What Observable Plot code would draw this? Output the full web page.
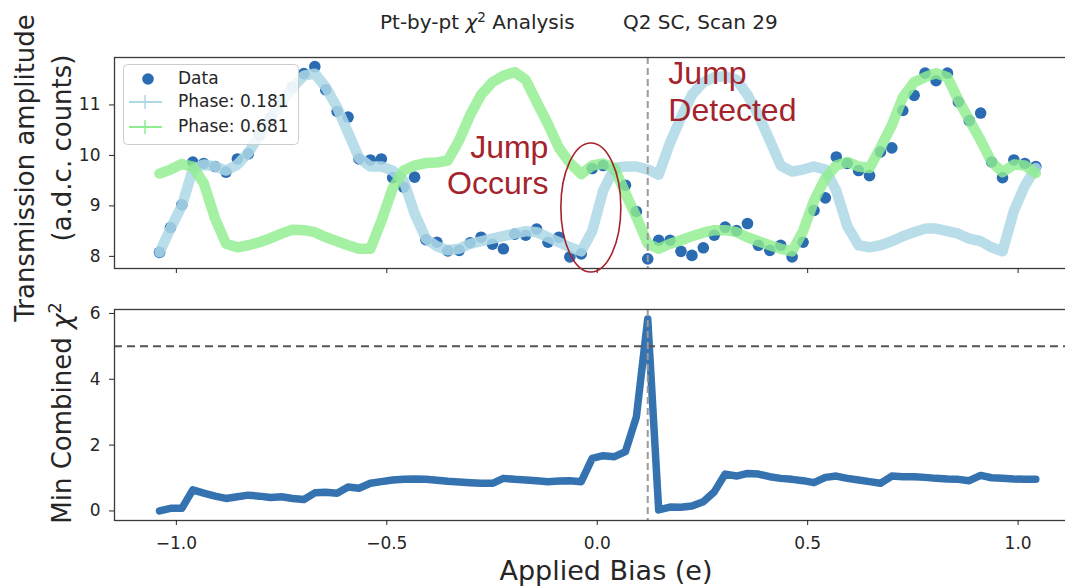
<!DOCTYPE html>
<html><head><meta charset="utf-8">
<script src="https://cdn.jsdelivr.net/npm/d3@7"></script>
<script src="https://cdn.jsdelivr.net/npm/@observablehq/plot@0.6"></script>
<style>
html,body{margin:0;padding:0;background:#fff;overflow:hidden}
#wrap{position:relative;width:1065px;height:587px;overflow:hidden;font-family:"DejaVu Sans",sans-serif;color:#262626;background:#fff}
#wrap svg{display:block;max-width:none}
.pane{position:absolute;left:0;width:1074px}
.t{position:absolute;white-space:nowrap;line-height:1}
.rot{transform:translate(-50%,-50%) rotate(-90deg)}
sup{font-size:0.68em;vertical-align:0.55em;line-height:0}
</style></head>
<body><div id="wrap">
  <div class="pane" id="topPane" style="top:0"></div>
  <div class="pane" id="botPane" style="top:290px"></div>
  <div class="t" style="left:380px;top:12px;font-size:20px">Pt-by-pt <i>χ</i><sup>2</sup> Analysis</div>
  <div class="t" style="left:623px;top:12px;font-size:20px">Q2 SC, Scan 29</div>
  <div class="t rot" style="left:25px;top:168px;font-size:26px">Transmission amplitude</div>
  <div class="t rot" style="left:62px;top:148px;font-size:26px">(a.d.c. counts)</div>
  <div class="t rot" style="left:62px;top:413px;font-size:26px">Min Combined <i>χ</i><sup>2</sup></div>
  <div class="t" style="left:606px;top:557px;font-size:27px;transform:translateX(-50%)">Applied Bias (e)</div>
</div>
<script>
// ---- data ----
const bias = [-1.040,-1.014,-0.987,-0.961,-0.935,-0.908,-0.882,-0.855,-0.829,-0.803,
 -0.776,-0.750,-0.724,-0.697,-0.671,-0.645,-0.618,-0.592,-0.566,-0.539,
 -0.513,-0.486,-0.460,-0.434,-0.407,-0.381,-0.355,-0.328,-0.302,-0.276,
 -0.249,-0.223,-0.196,-0.170,-0.144,-0.117,-0.091,-0.065,-0.038,-0.012,
 0.014,0.041,0.067,0.093,0.120,0.146,0.173,0.199,0.225,0.252,
 0.278,0.304,0.331,0.357,0.383,0.410,0.436,0.463,0.489,0.515,
 0.542,0.568,0.594,0.621,0.647,0.673,0.700,0.726,0.753,0.779,
 0.805,0.832,0.858,0.884,0.911,0.937,0.963,0.990,1.016,1.042];

const measured = [8.08,8.57,9.02,9.87,9.84,9.78,9.67,9.93,10.03,10.40,
 10.75,11.05,11.35,11.62,11.76,11.30,10.87,10.76,9.93,9.91,
 9.93,9.56,9.37,9.57,8.33,8.28,8.11,8.12,8.27,8.38,
 8.24,8.15,8.44,8.42,8.54,8.28,8.38,7.99,8.05,9.74,
 9.80,9.72,9.41,8.89,7.95,8.32,8.32,8.10,8.02,8.17,
 8.42,8.58,8.51,8.65,8.22,8.12,8.22,7.99,8.28,8.91,
 9.16,9.97,9.84,9.70,9.60,10.07,10.15,10.89,11.19,11.63,
 11.48,11.63,11.06,10.69,10.84,9.87,9.56,9.91,9.84,9.78];

const phase181 = [8.08,8.55,9.00,9.72,9.82,9.78,9.70,9.82,10.05,10.40,
 10.75,11.05,11.35,11.58,11.62,11.35,10.95,10.45,9.95,9.78,
 9.78,9.70,9.50,8.85,8.35,8.20,8.12,8.15,8.25,8.30,
 8.35,8.40,8.45,8.50,8.48,8.38,8.28,8.18,8.10,8.50,
 9.30,9.75,9.78,9.78,9.72,9.62,10.25,10.75,11.20,11.45,
 11.55,11.57,11.50,11.20,10.80,10.30,9.80,9.68,9.72,9.78,
 9.72,9.30,8.60,8.22,8.18,8.22,8.30,8.40,8.48,8.55,
 8.55,8.50,8.45,8.35,8.30,8.18,8.10,8.90,9.40,9.75];

const phase681 = [9.64,9.72,9.83,9.78,9.45,8.75,8.25,8.18,8.22,8.28,
 8.36,8.45,8.53,8.52,8.48,8.38,8.30,8.22,8.15,8.15,
 8.70,9.35,9.70,9.80,9.85,9.86,9.90,10.30,10.80,11.20,
 11.45,11.58,11.65,11.50,11.06,10.62,10.15,9.85,9.63,9.80,
 9.84,9.75,9.25,8.78,8.25,8.15,8.25,8.32,8.40,8.47,
 8.52,8.52,8.48,8.38,8.30,8.22,8.15,8.10,8.50,9.10,
 9.55,9.80,9.87,9.78,9.75,10.15,10.60,11.15,11.45,11.55,
 11.63,11.55,11.10,10.70,10.30,9.87,9.67,9.82,9.80,9.65];

const minChi2 = [0.00,0.08,0.08,0.64,0.54,0.45,0.38,0.43,0.48,0.45,
 0.41,0.43,0.38,0.35,0.55,0.57,0.54,0.73,0.69,0.84,
 0.89,0.94,0.96,0.97,0.96,0.93,0.90,0.88,0.86,0.84,
 0.84,0.99,0.96,0.94,0.92,0.89,0.91,0.92,0.89,1.60,
 1.68,1.65,1.80,2.86,5.83,0.03,0.12,0.11,0.15,0.28,
 0.58,1.12,1.06,1.14,1.12,1.04,0.99,0.96,0.92,0.86,
 1.02,1.06,0.99,0.94,0.89,0.84,1.06,1.04,1.04,1.02,
 0.99,0.97,0.96,0.92,1.08,1.01,0.99,0.97,0.96,0.96];

const legendLabels = ["Data", "Phase: 0.181", "Phase: 0.681"];
const ampTicks = [8, 9, 10, 11];
const ampTickLabels = ["8", "9", "10", "11"];
const chiTicks = [0, 2, 4, 6];
const chiTickLabels = ["0", "2", "4", "6"];
const biasTicks = [-1, -0.5, 0, 0.5, 1];
const biasTickLabels = ["−1.0", "−0.5", "0.0", "0.5", "1.0"];
const chi2Threshold = 5;
const jumpIndex = 44;

// ---- styling ----
const C_DOT = "#2a6bb2", C_P1 = "#add8e6", C_P2 = "#90ee90", C_CHI = "#3572b0", C_ANN = "#a4232c";
const rows = bias.map((b, i) => ({b, d: measured[i], p1: phase181[i], p2: phase681[i], c: minChi2[i]}));
const jumpX = bias[jumpIndex];

const common = {
  width: 1074, marginLeft: 114, marginRight: 0,
  x: {domain: [-1.147, 1.134]},
  style: {fontFamily: '"DejaVu Sans", sans-serif', fontSize: "17px", color: "#262626", background: "transparent", overflow: "visible", maxWidth: "none"}
};
const annFont = {fontFamily: '"Liberation Sans", Arial, sans-serif', fontSize: 32, fill: C_ANN, lineAnchor: "middle"};

const topPlot = Plot.plot({
  ...common,
  height: 290, marginTop: 57, marginBottom: 22,
  y: {domain: [7.76, 11.94]},
  marks: [
    Plot.dot(rows, {x: "b", y: "d", r: 5.8, fill: C_DOT, stroke: "none"}),
    Plot.line(rows, {x: "b", y: "p1", stroke: C_P1, strokeWidth: 10.5, strokeOpacity: 0.85}),
    Plot.line(rows, {x: "b", y: "p2", stroke: C_P2, strokeWidth: 10.5, strokeOpacity: 0.82}),
    Plot.ruleX([jumpX], {stroke: "#9a9a9a", strokeWidth: 2, strokeDasharray: "7,4"}),
    Plot.text(["Jump"], {...annFont, x: -0.116, y: 10.15, textAnchor: "end"}),
    Plot.text(["Occurs"], {...annFont, x: -0.116, y: 9.436, textAnchor: "end"}),
    Plot.text(["Jump"], {...annFont, x: 0.169, y: 11.615, textAnchor: "start"}),
    Plot.text(["Detected"], {...annFont, x: 0.169, y: 10.882, textAnchor: "start"}),
    Plot.frame({stroke: "#3a3a3a", strokeWidth: 1.3}),
    Plot.axisY({ticks: ampTicks, tickSize: 5, tickPadding: 9, tickFormat: (d, i) => ampTickLabels[i], label: null}),
    Plot.axisX({ticks: biasTicks, tickSize: 5, tickFormat: () => "", label: null})
  ]
});
// ellipse annotation around the jump
{
  const sx = topPlot.scale("x"), sy = topPlot.scale("y");
  d3.select(topPlot).append("ellipse")
    .attr("cx", sx.apply(-0.014)).attr("cy", sy.apply(8.958))
    .attr("rx", 30).attr("ry", 64.5)
    .attr("fill", "none").attr("stroke", C_ANN).attr("stroke-width", 1.6);
}
document.getElementById("topPane").appendChild(topPlot);

const botPlot = Plot.plot({
  ...common,
  height: 297, marginTop: 19, marginBottom: 67,
  y: {domain: [-0.29, 6.12]},
  marks: [
    Plot.line(rows, {x: "b", y: "c", stroke: C_CHI, strokeWidth: 7.5}),
    Plot.ruleY([chi2Threshold], {stroke: "#555", strokeWidth: 2, strokeDasharray: "8,5"}),
    Plot.ruleX([jumpX], {stroke: "#9a9a9a", strokeWidth: 2, strokeDasharray: "7,4"}),
    Plot.frame({stroke: "#3a3a3a", strokeWidth: 1.3}),
    Plot.axisY({ticks: chiTicks, tickSize: 5, tickPadding: 9, tickFormat: (d, i) => chiTickLabels[i], label: null}),
    Plot.axisX({ticks: biasTicks, tickSize: 5, tickPadding: 11, tickFormat: (d, i) => biasTickLabels[i], label: null})
  ]
});
document.getElementById("botPane").appendChild(botPlot);

// legend
{
  const lg = d3.create("svg").attr("width", 180).attr("height", 84)
    .style("position", "absolute").style("left", "123px").style("top", "64px")
    .style("font-family", '"DejaVu Sans", sans-serif').style("font-size", "17px");
  lg.append("rect").attr("x", 0.5).attr("y", 0.5).attr("width", 175).attr("height", 80).attr("rx", 4)
    .attr("fill", "#fff").attr("fill-opacity", 0.8).attr("stroke", "#cccccc");
  lg.append("circle").attr("cx", 25).attr("cy", 15).attr("r", 5.8).attr("fill", C_DOT);
  [[38, C_P1], [63, C_P2]].forEach(([yy, col]) => {
    lg.append("line").attr("x1", 6).attr("x2", 39).attr("y1", yy).attr("y2", yy).attr("stroke", col).attr("stroke-width", 2);
    lg.append("line").attr("x1", 22).attr("x2", 22).attr("y1", yy - 7).attr("y2", yy + 7).attr("stroke", col).attr("stroke-width", 1.5);
  });
  legendLabels.forEach((t, i) => {
    lg.append("text").attr("x", 55).attr("y", [20, 43, 68][i]).attr("fill", "#262626").text(t);
  });
  document.getElementById("wrap").appendChild(lg.node());
}
</script>
</body></html>
